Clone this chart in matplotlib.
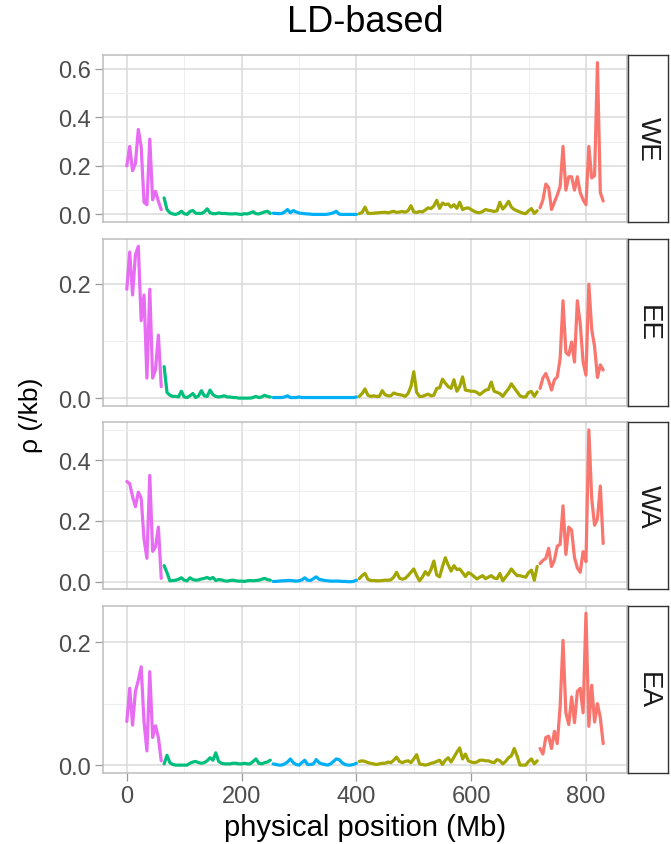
import matplotlib
matplotlib.use("Agg")
import matplotlib.pyplot as plt
from matplotlib.ticker import MultipleLocator, FormatStrFormatter
import numpy as np

# ---------------- data ----------------
positions = list(range(0, 835, 5))  # window positions (Mb)

region_bounds = [(0, 60), (65, 250), (255, 400), (405, 715), (720, 830)]
region_colors = ["#E76BF3", "#00BF7D", "#00B0F6", "#A3A500", "#F8766D"]

populations = ["WE", "EE", "WA", "EA"]

rho_WE = [
    0.20, 0.28, 0.18, 0.21, 0.35, 0.28, 0.05, 0.04, 0.31, 0.06, 0.095, 0.054, 0.02,
    0.068, 0.02, 0.007, 0.002, 0.0, 0.004, 0.013, 0.003, 0.0, 0.012,
    0.016, 0.005, 0.004, 0.004, 0.01, 0.023, 0.007, 0.003, 0.003, 0.006,
    0.004, 0.004, 0.003, 0.002, 0.002, 0.003, 0.001, 0.0, 0.003, 0.002,
    0.006, 0.011, 0.003, 0.002, 0.006, 0.01, 0.013, 0.004,
    0.005, 0.004, 0.003, 0.004, 0.01, 0.02, 0.007, 0.016, 0.01, 0.006,
    0.004, 0.003, 0.002, 0.001, 0.0, 0.0, 0.0, 0.0, 0.0, 0.001,
    0.003, 0.007, 0.013, 0.001, 0.0, 0.0, 0.0, 0.0, 0.0, 0.0,
    0.003, 0.008, 0.03, 0.005, 0.004, 0.005, 0.006, 0.007, 0.008, 0.009,
    0.006, 0.01, 0.013, 0.008, 0.01, 0.012, 0.009, 0.015, 0.036, 0.01,
    0.008, 0.012, 0.01, 0.018, 0.027, 0.024, 0.035, 0.058, 0.025, 0.047,
    0.04, 0.043, 0.03, 0.04, 0.025, 0.05, 0.02, 0.025, 0.027, 0.02,
    0.013, 0.008, 0.007, 0.012, 0.02, 0.017, 0.015, 0.012, 0.015, 0.05,
    0.022, 0.035, 0.054, 0.03, 0.02, 0.015, 0.01, 0.005, 0.003, 0.015,
    0.024, 0.004, 0.015,
    0.027, 0.06, 0.125, 0.11, 0.02,
    0.05, 0.08, 0.115, 0.28, 0.1,
    0.155, 0.155, 0.1, 0.155, 0.09,
    0.06, 0.04, 0.28, 0.15, 0.16,
    0.625, 0.09, 0.055,
]

rho_EE = [
    0.19, 0.255, 0.18, 0.25, 0.265, 0.135, 0.18, 0.035, 0.19, 0.035, 0.05, 0.11, 0.02,
    0.055, 0.01, 0.005, 0.003, 0.003, 0.002, 0.012, 0.002, 0.001, 0.004,
    0.008, 0.001, 0.004, 0.013, 0.004, 0.003, 0.014, 0.006, 0.003, 0.002,
    0.003, 0.004, 0.002, 0.002, 0.001, 0.001, 0.0, 0.0, 0.0, 0.0,
    0.0, 0.001, 0.003, 0.001, 0.002, 0.005, 0.003, 0.002,
    0.001, 0.001, 0.001, 0.001, 0.002, 0.004, 0.001, 0.001, 0.001, 0.002,
    0.001, 0.001, 0.001, 0.001, 0.001, 0.001, 0.001, 0.001, 0.001, 0.001,
    0.001, 0.001, 0.001, 0.001, 0.001, 0.001, 0.001, 0.001, 0.001, 0.002,
    0.003, 0.008, 0.016, 0.005, 0.003, 0.004, 0.003, 0.003, 0.013, 0.006,
    0.004, 0.004, 0.009, 0.007, 0.006, 0.005, 0.003, 0.008, 0.02, 0.046,
    0.01, 0.003, 0.003, 0.005, 0.007, 0.004, 0.005, 0.017, 0.018, 0.033,
    0.026, 0.02, 0.017, 0.032, 0.012, 0.02, 0.037, 0.014, 0.013, 0.012,
    0.012, 0.01, 0.006, 0.01, 0.014, 0.015, 0.028, 0.012, 0.01, 0.008,
    0.003, 0.01, 0.016, 0.025, 0.018, 0.011, 0.004, 0.002, 0.002, 0.01,
    0.0115, 0.003, 0.011,
    0.017, 0.035, 0.043, 0.03, 0.014,
    0.032, 0.037, 0.069, 0.17, 0.08,
    0.075, 0.098, 0.063, 0.17, 0.13,
    0.063, 0.04, 0.199, 0.12, 0.09,
    0.036, 0.058, 0.049,
]

rho_WA = [
    0.33, 0.323, 0.28, 0.247, 0.295, 0.275, 0.14, 0.077, 0.35, 0.1, 0.115, 0.18, 0.011,
    0.053, 0.03, 0.003, 0.004, 0.005, 0.008, 0.013, 0.005, 0.003, 0.013,
    0.007, 0.005, 0.006, 0.009, 0.011, 0.014, 0.009, 0.014, 0.004, 0.007,
    0.006, 0.003, 0.002, 0.004, 0.005, 0.003, 0.002, 0.002, 0.001, 0.003,
    0.004, 0.003, 0.004, 0.005, 0.008, 0.011, 0.007, 0.005,
    0.001, 0.001, 0.002, 0.003, 0.003, 0.004, 0.004, 0.003, 0.002, 0.003,
    0.006, 0.013, 0.005, 0.004, 0.01, 0.016, 0.008, 0.006, 0.004, 0.003,
    0.002, 0.002, 0.002, 0.002, 0.001, 0.001, 0.0, 0.0, 0.001, 0.005,
    0.01, 0.02, 0.027, 0.008, 0.004, 0.004, 0.003, 0.003, 0.004, 0.005,
    0.005, 0.006, 0.015, 0.031, 0.012, 0.008, 0.011, 0.02, 0.031, 0.042,
    0.02, 0.003, 0.015, 0.033, 0.022, 0.04, 0.068, 0.022, 0.016, 0.05,
    0.079, 0.055, 0.035, 0.053, 0.04, 0.042, 0.03, 0.017, 0.03, 0.025,
    0.017, 0.009, 0.015, 0.02, 0.01, 0.015, 0.02, 0.012, 0.01, 0.027,
    0.003, 0.015, 0.027, 0.042, 0.03, 0.02, 0.02, 0.017, 0.015, 0.03,
    0.038, 0.005, 0.05,
    0.06, 0.07, 0.077, 0.11, 0.05,
    0.071, 0.117, 0.123, 0.25, 0.09,
    0.18, 0.17, 0.08, 0.045, 0.031,
    0.099, 0.066, 0.5, 0.274, 0.186,
    0.208, 0.315, 0.126,
]

rho_EA = [
    0.071, 0.125, 0.065, 0.12, 0.138, 0.16, 0.07, 0.023, 0.152, 0.045, 0.064, 0.045, 0.007,
    0.002, 0.016, 0.004, 0.001, 0.0, 0.0, 0.0, 0.0, 0.0, 0.003,
    0.005, 0.006, 0.004, 0.003, 0.004, 0.007, 0.012, 0.008, 0.02, 0.006,
    0.003, 0.002, 0.002, 0.002, 0.003, 0.003, 0.002, 0.002, 0.003, 0.002,
    0.002, 0.006, 0.01, 0.003, 0.002, 0.004, 0.005, 0.008,
    0.002, 0.001, 0.0, 0.0, 0.002, 0.005, 0.01, 0.004, 0.001, 0.0,
    0.004, 0.008, 0.001, 0.001, 0.002, 0.009, 0.004, 0.002, 0.001, 0.0,
    0.002, 0.006, 0.01, 0.009, 0.004, 0.001, 0.0, 0.0, 0.001, 0.003,
    0.006, 0.007, 0.006, 0.004, 0.003, 0.002, 0.001, 0.002, 0.003, 0.003,
    0.005, 0.004, 0.008, 0.013, 0.006, 0.004, 0.006, 0.007, 0.004, 0.01,
    0.017, 0.002, 0.001, 0.0, 0.001, 0.003, 0.004, 0.006, 0.008, 0.001,
    0.008, 0.012, 0.005, 0.013, 0.021, 0.028, 0.01, 0.018, 0.007, 0.005,
    0.004, 0.005, 0.008, 0.008, 0.007, 0.007, 0.005, 0.004, 0.009, 0.007,
    0.002, 0.006, 0.012, 0.015, 0.027, 0.015, 0.0, 0.0, 0.0, 0.006,
    0.01, 0.002, 0.007,
    0.027, 0.018, 0.045, 0.047, 0.027,
    0.055, 0.035, 0.095, 0.203, 0.085,
    0.066, 0.111, 0.069, 0.12, 0.125,
    0.085, 0.247, 0.063, 0.13, 0.07,
    0.1, 0.077, 0.035,
]

series = [rho_WE, rho_EE, rho_WA, rho_EA]
for s in series:
    assert len(s) == len(positions), len(s)

# ---------------- style ----------------
FONT = ["Liberation Sans", "DejaVu Sans"]
plt.rcParams["font.family"] = FONT

W, H = 671, 845
fig = plt.figure(figsize=(W / 100, H / 100), dpi=100)
fig.patch.set_facecolor("white")

panel_tops = [56, 239.7, 423.3, 606.7]
panel_h = 167
left_px, right_px = 103, 627
strip_l, strip_r = 628, 668

x = np.array(positions, dtype=float)
for i, (pop, vals) in enumerate(zip(populations, series)):
    v = np.array(vals, dtype=float)
    top = panel_tops[i]
    b = 1 - (top + panel_h) / H
    ax = fig.add_axes([left_px / W, b, (right_px - left_px) / W, panel_h / H])
    ax.set_facecolor("white")
    for (lo, hi), col in zip(region_bounds, region_colors):
        m = (x >= lo) & (x <= hi)
        ax.plot(x[m], v[m], color=col, lw=2.3, solid_joinstyle="round",
                solid_capstyle="round", zorder=3)
    ax.set_xlim(-41.5, 871.5)
    ax.margins(y=0.05)
    ax.xaxis.set_major_locator(MultipleLocator(200))
    ax.xaxis.set_minor_locator(MultipleLocator(100))
    ax.yaxis.set_major_locator(MultipleLocator(0.2))
    ax.yaxis.set_minor_locator(MultipleLocator(0.1))
    ax.yaxis.set_major_formatter(FormatStrFormatter("%.1f"))
    ax.set_axisbelow(True)
    ax.grid(which="major", color="#DADADA", lw=1.1)
    ax.grid(which="minor", color="#EEEEEE", lw=0.7)
    for sp in ax.spines.values():
        sp.set_color("#BDBDBD")
        sp.set_linewidth(1.1)
    ax.tick_params(axis="both", which="minor", length=0)
    ax.tick_params(axis="y", which="major", length=5.5, width=0.9,
                   color="#9A9A9A", labelsize=17, labelcolor="#4D4D4D", pad=3)
    if i < 3:
        ax.tick_params(axis="x", which="both", length=0, labelbottom=False)
    else:
        ax.tick_params(axis="x", which="major", length=5.5, width=0.9,
                       color="#9A9A9A", labelsize=17, labelcolor="#4D4D4D", pad=3)

    sax = fig.add_axes([strip_l / W, b, (strip_r - strip_l) / W, panel_h / H])
    sax.set_facecolor("white")
    sax.set_xticks([])
    sax.set_yticks([])
    for sp in sax.spines.values():
        sp.set_color("#333333")
        sp.set_linewidth(1.0)
    sax.text(0.5, 0.5, pop, rotation=-90, ha="center", va="center",
             fontsize=20, color="#1A1A1A", transform=sax.transAxes)

cx = (left_px + right_px) / 2 / W
fig.text(cx, 1 - 22 / H, "LD-based", ha="center", va="center", fontsize=26, color="black")
fig.text(cx, 1 - 828 / H, "physical position (Mb)", ha="center", va="center",
         fontsize=21, color="black")
fig.text(31 / W, 1 - 415 / H, "ρ (/kb)", rotation=90, ha="center", va="center",
         fontsize=19, color="black")

fig.savefig("out.png", dpi=100, facecolor="white")
